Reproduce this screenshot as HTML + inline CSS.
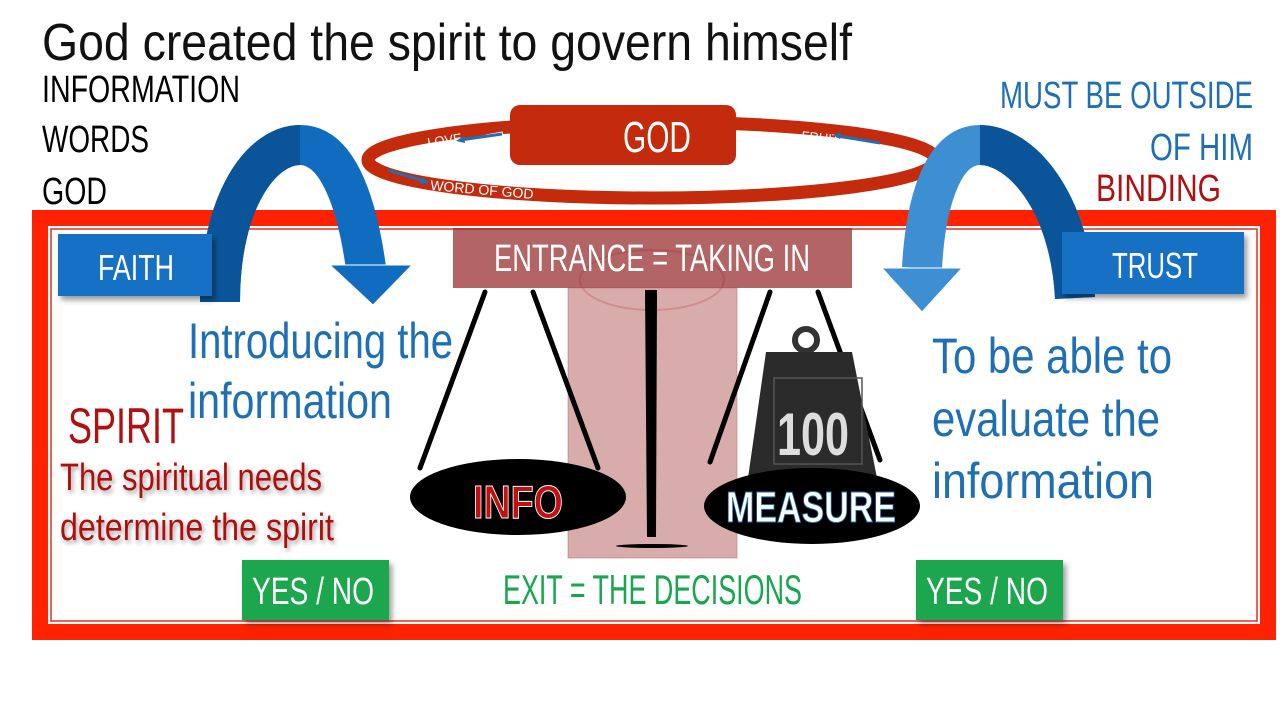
<!DOCTYPE html>
<html><head><meta charset="utf-8"><style>
html,body{margin:0;padding:0;background:#fff;width:1280px;height:720px;overflow:hidden}
text{font-family:"Liberation Sans Narrow","Liberation Sans",sans-serif}
</style></head><body>
<svg width="1280" height="720" viewBox="0 0 1280 720" xmlns="http://www.w3.org/2000/svg">
<defs>
<filter id="sh" x="-20%" y="-20%" width="140%" height="150%"><feDropShadow dx="3" dy="4" stdDeviation="3" flood-opacity="0.4"/></filter>
<filter id="ts" x="-10%" y="-20%" width="120%" height="150%"><feDropShadow dx="2" dy="3" stdDeviation="2" flood-opacity="0.35"/></filter>
</defs>
<!-- title and left/right labels -->
<text x="42" y="60" font-size="52" fill="#111" textLength="810" lengthAdjust="spacingAndGlyphs">God created the spirit to govern himself</text>
<text x="42" y="102" font-size="38" fill="#000" textLength="198" lengthAdjust="spacingAndGlyphs">INFORMATION</text>
<text x="42" y="152" font-size="38" fill="#000" textLength="107" lengthAdjust="spacingAndGlyphs">WORDS</text>
<text x="42" y="204" font-size="38" fill="#000" textLength="65" lengthAdjust="spacingAndGlyphs">GOD</text>
<text x="1000" y="108" font-size="38" fill="#1f6fb5" textLength="253" lengthAdjust="spacingAndGlyphs">MUST BE OUTSIDE</text>
<text x="1150" y="160" font-size="38" fill="#1f6fb5" textLength="103" lengthAdjust="spacingAndGlyphs">OF HIM</text>
<text x="1096" y="201" font-size="38" fill="#b01010" textLength="125" lengthAdjust="spacingAndGlyphs">BINDING</text>

<!-- frame -->
<rect x="32" y="210" width="1244" height="430" fill="#ff2200"/>
<rect x="48" y="226" width="1212" height="398" fill="#fff"/>
<rect x="51" y="229" width="1206" height="392" fill="none" stroke="#e03020" stroke-width="1.5"/>

<!-- ring -->
<ellipse cx="652" cy="160" rx="284" ry="38" fill="none" stroke="#c42a0c" stroke-width="13"/>
<rect x="510" y="105" width="226" height="60" rx="10" fill="#c42a0c"/>
<text x="623" y="152" font-size="44" fill="#fff" textLength="68" lengthAdjust="spacingAndGlyphs">GOD</text>
<text x="428" y="147" font-size="13" fill="#fff" transform="rotate(-8 428 147)">LOVE</text>
<path d="M486,137 L503,134" stroke="#fff" stroke-width="5"/><path d="M460,140 L502,134" stroke="#1f6fb5" stroke-width="3"/><path d="M456,141 l8,-5 l1,7z" fill="#1f6fb5"/>
<text x="801" y="140" font-size="13" fill="#fff" transform="rotate(6 801 140)">FRUIT</text>
<path d="M838,136 L880,143" stroke="#1f6fb5" stroke-width="3"/><path d="M833,135 l8,-3 l-1,7z" fill="#1f6fb5"/>
<path d="M388,170 L424,181" stroke="#1f6fb5" stroke-width="3"/><path d="M430,183 l-8,-6 l-2,7z" fill="#1f6fb5"/>
<text x="430" y="190" font-size="14" fill="#fff" transform="rotate(5 430 190)">WORD OF GOD</text>

<!-- left arrow -->
<path d="M220,302 C220,200 262,145 300,145 C340,145 358,210 366,268" fill="none" stroke="#0f6cbf" stroke-width="40"/>
<path d="M220,302 C220,200 262,145 300,145" fill="none" stroke="#0a5599" stroke-width="40"/>
<path d="M330,265 L412,265 L373,305 Z" fill="#0f6cbf" stroke="#fff" stroke-width="1"/>
<!-- right arrow -->
<path d="M1075,298 C1070,200 1020,145 980,145 C940,145 925,210 922,268" fill="none" stroke="#3d8fd2" stroke-width="40"/>
<path d="M1075,298 C1070,200 1020,145 980,145" fill="none" stroke="#0a5599" stroke-width="40"/>
<path d="M882,268 L962,268 L922,312 Z" fill="#3d8fd2" stroke="#fff" stroke-width="1"/>

<!-- FAITH / TRUST -->
<rect x="58" y="234" width="154" height="62" fill="#1570c4" filter="url(#sh)"/>
<text x="98" y="280" font-size="36" fill="#fff" textLength="76" lengthAdjust="spacingAndGlyphs">FAITH</text>
<rect x="1062" y="232" width="182" height="62" fill="#1570c4" filter="url(#sh)"/>
<text x="1112" y="278" font-size="36" fill="#fff" textLength="86" lengthAdjust="spacingAndGlyphs">TRUST</text>

<!-- scale -->
<rect x="568" y="288" width="169" height="270" fill="#b45a5a" fill-opacity="0.5" stroke="#c06060" stroke-opacity="0.5"/>
<ellipse cx="652" cy="280" rx="72" ry="30" fill="none" stroke="#c06060" stroke-opacity="0.4" stroke-width="2"/>
<rect x="453" y="228" width="399" height="60" fill="#9a3030" fill-opacity="0.75"/>
<text x="494" y="271" font-size="38" fill="#fff" textLength="316" lengthAdjust="spacingAndGlyphs">ENTRANCE = TAKING IN</text>
<path d="M645,290 L657,290 L656,537 L647,537 Z" fill="#000"/>
<ellipse cx="652" cy="546" rx="36" ry="2" fill="#000"/>
<g stroke="#000" stroke-width="5" stroke-linecap="round">
<line x1="485" y1="292" x2="420" y2="468"/><line x1="533" y1="292" x2="598" y2="468"/>
<line x1="770" y1="292" x2="710" y2="462"/><line x1="818" y1="292" x2="880" y2="460"/>
</g>
<ellipse cx="518" cy="497" rx="108" ry="38" fill="#000"/>
<text x="473" y="518" font-size="46" font-weight="bold" fill="#c01010" stroke="#fff" stroke-width="1" textLength="90" lengthAdjust="spacingAndGlyphs">INFO</text>
<circle cx="806" cy="340" r="11" fill="none" stroke="#333" stroke-width="6"/>
<path d="M766,352 L852,352 L877,478 L748,478 Z" fill="#2b2b2b"/>
<rect x="774" y="378" width="88" height="86" fill="none" stroke="#555" stroke-width="1.5"/>
<text x="777" y="455" font-size="60" font-weight="bold" fill="#ddd" textLength="72" lengthAdjust="spacingAndGlyphs">100</text>
<ellipse cx="812" cy="506" rx="108" ry="38" fill="#000"/>
<text x="726" y="522" font-size="44" font-weight="bold" fill="#fff" stroke="#1f6fb5" stroke-width="1" textLength="170" lengthAdjust="spacingAndGlyphs">MEASURE</text>

<!-- body texts -->
<text x="188" y="358" font-size="50" fill="#1f6fb5" textLength="265" lengthAdjust="spacingAndGlyphs">Introducing the</text>
<text x="188" y="418" font-size="50" fill="#1f6fb5" textLength="204" lengthAdjust="spacingAndGlyphs">information</text>
<text x="68" y="443" font-size="50" fill="#b01010" textLength="116" lengthAdjust="spacingAndGlyphs">SPIRIT</text>
<g filter="url(#ts)">
<text x="60" y="490" font-size="38" fill="#b01010" textLength="262" lengthAdjust="spacingAndGlyphs">The spiritual needs</text>
<text x="60" y="540" font-size="38" fill="#b01010" textLength="274" lengthAdjust="spacingAndGlyphs">determine the spirit</text>
</g>
<text x="932" y="373" font-size="50" fill="#1f6fb5" textLength="240" lengthAdjust="spacingAndGlyphs">To be able to</text>
<text x="932" y="436" font-size="50" fill="#1f6fb5" textLength="228" lengthAdjust="spacingAndGlyphs">evaluate the</text>
<text x="932" y="498" font-size="50" fill="#1f6fb5" textLength="222" lengthAdjust="spacingAndGlyphs">information</text>

<!-- bottom -->
<rect x="242" y="560" width="147" height="60" fill="#1aa64e" filter="url(#sh)"/>
<text x="252" y="604" font-size="38" fill="#fff" textLength="122" lengthAdjust="spacingAndGlyphs">YES / NO</text>
<rect x="916" y="560" width="147" height="60" fill="#1aa64e" filter="url(#sh)"/>
<text x="926" y="604" font-size="38" fill="#fff" textLength="122" lengthAdjust="spacingAndGlyphs">YES / NO</text>
<text x="503" y="604" font-size="42" fill="#1aa64e" textLength="299" lengthAdjust="spacingAndGlyphs">EXIT = THE DECISIONS</text>
</svg>
</body></html>
